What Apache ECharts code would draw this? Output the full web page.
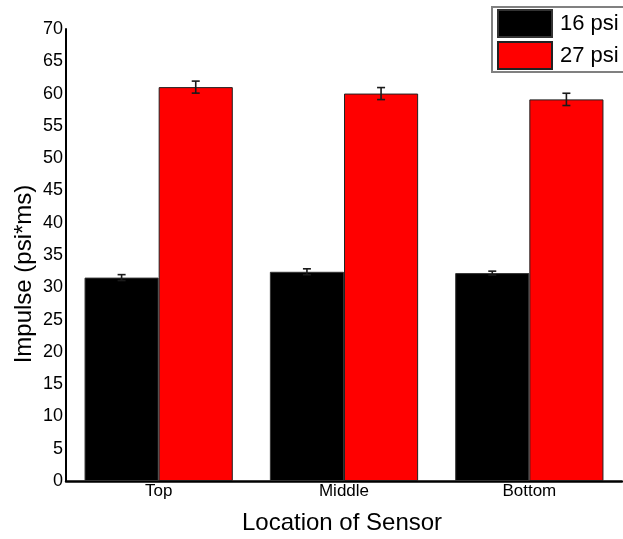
<!DOCTYPE html>
<html>
<head>
<meta charset="utf-8">
<script src="https://cdn.jsdelivr.net/npm/echarts@6/dist/echarts.min.js"></script>
<style>
  html, body { margin: 0; padding: 0; background: #fff; }
  #chart { width: 623px; height: 539px; }
</style>
</head>
<body>
<div id="chart"></div>
<script>
// Sensor locations and measured impulse (psi*ms) for each charge pressure
const categories = ['Top', 'Middle', 'Bottom'];
const seriesNames = ['16 psi', '27 psi'];
const impulse16 = [31.5, 32.4, 32.2];
const impulse27 = [61.0, 60.0, 59.1];
const error16 = [0.46, 0.46, 0.3];
const error27 = [0.93, 0.93, 0.95];
const yTicks = { min: 0, max: 70, interval: 5 };

const FONT = '"Liberation Sans", Arial, sans-serif';
const chart = echarts.init(document.getElementById('chart'), null, { renderer: 'canvas' });

// Error bars: each series' bar occupies 40% of the band (20% category gap, no bar gap)
function errorSeries(values, errors, side) {
  return {
    type: 'custom',
    z: 5,
    silent: true,
    data: values.map((v, i) => [i, v, errors[i]]),
    renderItem: function (params, api) {
      const idx = api.value(0);
      const v = api.value(1);
      const e = api.value(2);
      const band = api.size([1, 0])[0];
      const cx = api.coord([idx, v])[0] + side * band * 0.2;
      const top = api.coord([idx, v + e])[1];
      const bot = api.coord([idx, v - e])[1];
      const half = 4;
      const style = { stroke: '#1a1a1a', lineWidth: 1.6 };
      return {
        type: 'group',
        children: [
          { type: 'line', shape: { x1: cx, y1: top, x2: cx, y2: bot }, style },
          { type: 'line', shape: { x1: cx - half, y1: top, x2: cx + half, y2: top }, style },
          { type: 'line', shape: { x1: cx - half, y1: bot, x2: cx + half, y2: bot }, style }
        ]
      };
    }
  };
}

chart.setOption({
  animation: false,
  textStyle: { fontFamily: FONT, color: '#000' },
  grid: { left: 66, right: 1, top: 29, bottom: 58 },
  legend: {
    orient: 'vertical',
    left: 492,
    top: 7,
    padding: [2, 20, 2, 5],
    itemWidth: 54,
    itemHeight: 27,
    itemGap: 3,
    borderColor: '#808080',
    borderWidth: 2,
    icon: 'rect',
    data: seriesNames,
    textStyle: { fontFamily: FONT, fontSize: 22, color: '#000', padding: [0, 0, 0, 3] }
  },
  xAxis: {
    type: 'category',
    data: categories,
    axisLine: { lineStyle: { color: '#000', width: 2.5 } },
    axisTick: { show: false },
    axisLabel: { fontFamily: FONT, fontSize: 17, color: '#000', margin: 2 },
    splitLine: { show: false }
  },
  yAxis: {
    type: 'value',
    min: yTicks.min,
    max: yTicks.max,
    interval: yTicks.interval,
    axisLine: { show: true, lineStyle: { color: '#000', width: 2 } },
    axisTick: { show: false },
    axisLabel: { fontFamily: FONT, fontSize: 18, color: '#000', margin: 3 },
    splitLine: { show: false }
  },
  graphic: [
    {
      type: 'text',
      x: 342, y: 523,
      style: { text: 'Location of Sensor', font: '24px ' + FONT, fill: '#000', textAlign: 'center', textVerticalAlign: 'middle' }
    },
    {
      type: 'text',
      x: 24, y: 274,
      rotation: Math.PI / 2,
      style: { text: 'Impulse (psi*ms)', font: '24px ' + FONT, fill: '#000', textAlign: 'center', textVerticalAlign: 'middle' }
    }
  ],
  series: [
    {
      name: seriesNames[0],
      type: 'bar',
      data: impulse16,
      barGap: '0%',
      barCategoryGap: '20%',
      itemStyle: { color: '#000', borderColor: '#333', borderWidth: 1 }
    },
    {
      name: seriesNames[1],
      type: 'bar',
      data: impulse27,
      barGap: '0%',
      barCategoryGap: '20%',
      itemStyle: { color: '#ff0000', borderColor: '#222', borderWidth: 1 }
    },
    errorSeries(impulse16, error16, -1),
    errorSeries(impulse27, error27, 1)
  ]
});
</script>
</body>
</html>
